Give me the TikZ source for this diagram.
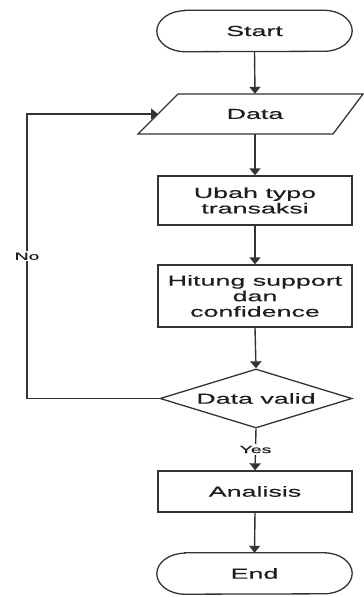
\documentclass[tikz,border=0pt]{standalone}
\usepackage{fontspec}
\setmainfont{Liberation Sans}[FakeStretch=1.85,FakeBold=0.4]
\usetikzlibrary{arrows.meta,shapes.geometric}
\definecolor{linec}{HTML}{333333}
\definecolor{textc}{HTML}{1E1E1E}
\begin{document}
\begin{tikzpicture}[x=1pt,y=-1pt,
  txt/.style={text=textc,font=\fontsize{14.5}{15.5}\selectfont,align=center,inner sep=0pt},
  outline/.style={draw=linec,line width=1.3pt},
  procbox/.style={txt,outline,rectangle,minimum width=194pt},
  terminal/.style={txt,minimum width=195pt,minimum height=41pt},
  decision/.style={txt,outline,diamond,aspect=3.2,minimum width=192pt,minimum height=59pt},
  flow/.style={draw=linec,line width=1.4pt,-{Triangle[width=11pt,length=7pt]}},
  lab/.style={txt,fill=white,font=\fontsize{10.5}{11}\selectfont,inner sep=1.5pt}]
\useasboundingbox (0,0) rectangle (364,597);

% terminals with elongated round ends
\node[terminal] (start) at (254.5,31) {Start};
\draw[outline] ([xshift=28pt]start.north west) -- ([xshift=-28pt]start.north east)
  arc[start angle=90,end angle=-90,x radius=28pt,y radius=20.5pt]
  -- ([xshift=28pt]start.south west)
  arc[start angle=270,end angle=90,x radius=28pt,y radius=20.5pt] -- cycle;

% input/output parallelogram
\node[txt,minimum width=150pt,minimum height=40pt] (data) at (255,114) {Data};
\draw[outline] (178,94) -- (363,94) -- (333,134) -- (138,134) -- cycle;
\coordinate (dataL) at (158,114);

\node[procbox,minimum height=49pt] (ubah) at (255,200.5) {Ubah typo\\transaksi};
\node[procbox,minimum height=62pt] (hitung) at (255,296) {Hitung support\\dan\\confidence};
\node[decision] (valid) at (256,398.5) {Data valid};
\node[procbox,minimum height=41pt] (analisis) at (255,491.5) {Analisis};

\node[terminal] (end) at (254.5,573.5) {End};
\draw[outline] ([xshift=28pt]end.north west) -- ([xshift=-28pt]end.north east)
  arc[start angle=90,end angle=-90,x radius=28pt,y radius=20.5pt]
  -- ([xshift=28pt]end.south west)
  arc[start angle=270,end angle=90,x radius=28pt,y radius=20.5pt] -- cycle;

% connectors
\coordinate (loopB) at (27,398.5);
\coordinate (loopT) at (27,114);
\draw[flow] (start.south) -- (data.north);
\draw[flow] (data.south) -- (ubah.north);
\draw[flow] (ubah.south) -- (hitung.north);
\draw[flow] (hitung.south) -- (valid.north);
\draw[flow] (valid.south) -- node[lab] {Yes} (analisis.north);
\draw[flow] (analisis.south) -- (end.north);
\draw[flow] (valid.west) -- (loopB) -- node[lab] {No} (loopT) -- (dataL);
\end{tikzpicture}
\end{document}
